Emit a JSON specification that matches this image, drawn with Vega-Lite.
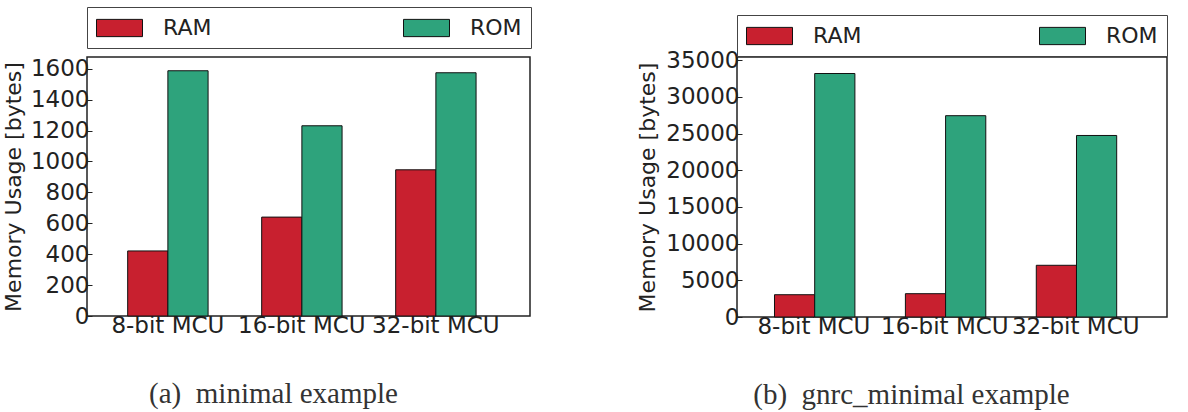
{
  "$schema": "https://vega.github.io/schema/vega-lite/v6.json",
  "padding": {"left": 1, "top": 5, "right": 0, "bottom": 0},
  "background": "white",
  "spacing": 103,
  "datasets": {
    "minimal": [
      {"mcu": "8-bit MCU", "type": "RAM", "value": 421},
      {"mcu": "8-bit MCU", "type": "ROM", "value": 1587},
      {"mcu": "16-bit MCU", "type": "RAM", "value": 640},
      {"mcu": "16-bit MCU", "type": "ROM", "value": 1231},
      {"mcu": "32-bit MCU", "type": "RAM", "value": 946},
      {"mcu": "32-bit MCU", "type": "ROM", "value": 1574}
    ],
    "gnrc": [
      {"mcu": "8-bit MCU", "type": "RAM", "value": 3040},
      {"mcu": "8-bit MCU", "type": "ROM", "value": 33200},
      {"mcu": "16-bit MCU", "type": "RAM", "value": 3180},
      {"mcu": "16-bit MCU", "type": "ROM", "value": 27450},
      {"mcu": "32-bit MCU", "type": "RAM", "value": 7050},
      {"mcu": "32-bit MCU", "type": "ROM", "value": 24750}
    ]
  },
  "config": {
    "view": {"stroke": "#222", "strokeWidth": 1.5},
    "font": "DejaVu Sans",
    "axis": {
      "labelFont": "DejaVu Sans",
      "labelFontSize": 23,
      "labelColor": "#222",
      "titleFont": "DejaVu Sans",
      "titleFontSize": 22,
      "titleFontWeight": "normal",
      "titleColor": "#222",
      "grid": false,
      "domain": false,
      "tickColor": "#222",
      "tickSize": -5,
      "labelPadding": 3
    },
    "axisX": {
      "titleFont": "Liberation Serif",
      "titleFontSize": 29,
      "titleColor": "#333",
      "titlePadding": 42
    },
    "legend": {
      "labelFont": "DejaVu Sans",
      "labelFontSize": 22,
      "labelColor": "#222",
      "strokeColor": "#444",
      "padding": 9,
      "symbolType": "M-1,-0.75H3V0.75H-1Z",
      "symbolSize": 529,
      "symbolStrokeColor": "#111",
      "symbolStrokeWidth": 1,
      "symbolOpacity": 1,
      "labelOffset": 43,
      "orient": "top",
      "direction": "horizontal",
      "title": null
    }
  },
  "hconcat": [
    {
      "data": {"name": "minimal"},
      "width": 443,
      "height": 259,
      "mark": {"type": "bar", "stroke": "#111", "strokeWidth": 1},
      "encoding": {
        "x": {
          "field": "mcu", "type": "nominal", "sort": ["8-bit MCU", "16-bit MCU", "32-bit MCU"],
          "scale": {"paddingInner": 0.4, "paddingOuter": 0.353, "align": 0.43},
          "axis": {"title": "(a)\u2002minimal example", "labelAngle": 0, "titleX": 186}
        },
        "xOffset": {"field": "type", "type": "nominal", "scale": {"paddingInner": 0, "paddingOuter": 0}},
        "y": {
          "field": "value", "type": "quantitative",
          "scale": {"domain": [0, 1676], "nice": false},
          "axis": {"title": "Memory Usage [bytes]", "values": [0, 200, 400, 600, 800, 1000, 1200, 1400, 1600], "format": "d", "titlePadding": 5}
        },
        "color": {
          "field": "type", "type": "nominal",
          "scale": {"domain": ["RAM", "ROM"], "range": ["#c8202f", "#2ea37c"]},
          "legend": {"offset": 9, "columnPadding": 189}
        }
      }
    },
    {
      "data": {"name": "gnrc"},
      "width": 430,
      "height": 260,
      "mark": {"type": "bar", "stroke": "#111", "strokeWidth": 1},
      "encoding": {
        "x": {
          "field": "mcu", "type": "nominal", "sort": ["8-bit MCU", "16-bit MCU", "32-bit MCU"],
          "scale": {"paddingInner": 0.397, "paddingOuter": 0.341, "align": 0.42},
          "axis": {"title": "(b)\u2002gnrc_minimal example", "labelAngle": 0, "titleX": 174}
        },
        "xOffset": {"field": "type", "type": "nominal", "scale": {"paddingInner": 0, "paddingOuter": 0}},
        "y": {
          "field": "value", "type": "quantitative",
          "scale": {"domain": [0, 35450], "nice": false},
          "axis": {"title": "Memory Usage [bytes]", "values": [0, 5000, 10000, 15000, 20000, 25000, 30000, 35000], "format": "d", "titlePadding": 6}
        },
        "color": {
          "field": "type", "type": "nominal",
          "scale": {"domain": ["RAM", "ROM"], "range": ["#c8202f", "#2ea37c"]},
          "legend": {"offset": 1, "columnPadding": 175}
        }
      }
    }
  ],
  "resolve": {"scale": {"color": "independent"}, "legend": {"color": "independent"}}
}
